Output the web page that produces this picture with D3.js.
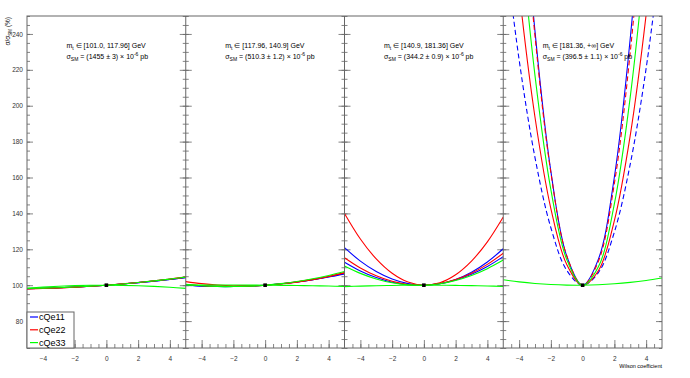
<!DOCTYPE html>
<html><head><meta charset="utf-8">
<script src="https://cdn.jsdelivr.net/npm/d3@7"></script>
<style>body{margin:0;background:#fff}svg{display:block;font-family:"Liberation Sans",Arial,sans-serif}</style>
</head><body><svg id="c" width="690" height="378"></svg>
<script>
// ---------- data ----------
const wilson = [-5,-4,-3,-2,-1,0,1,2,3,4,5];
const coefficients = ["cQe11","cQe22","cQe33"];
const massRanges = ["[101.0, 117.96]","[117.96, 140.9]","[140.9, 181.36]","[181.36, +\u221e]"];
const sigmaSM = ["(1455 \u00b1 3)","(510.3 \u00b1 1.2)","(344.2 \u00b1 0.9)","(396.5 \u00b1 1.1)"];
const xTickLabels = [-4,-2,0,2,4];
const yTickLabels = [80,100,120,140,160,180,200,220,240];

// panel 1
const p1_cQe11_a = [98.1,98.29,98.57,98.95,99.43,100,100.67,101.43,102.29,103.25,104.3];
const p1_cQe11_b = [98.0,98.22,98.54,98.94,99.42,100,100.66,101.42,102.26,103.18,104.2];
const p1_cQe22_a = [97.9,98.12,98.44,98.86,99.38,100,100.72,101.54,102.46,103.48,104.6];
const p1_cQe22_b = [98.0,98.21,98.51,98.91,99.41,100,100.69,101.47,102.35,103.33,104.4];
const p1_cQe33_a = [98.2,98.34,98.6,98.96,99.42,100,100.68,101.48,102.38,103.38,104.5];
const p1_cQe33_b = [98.3,98.92,99.4,99.74,99.94,100,99.92,99.7,99.34,98.84,98.2];
// panel 2
const p2_cQe11_a = [100.2,99.62,99.32,99.28,99.5,100,100.76,101.8,103.1,104.66,106.5];
const p2_cQe11_b = [100.0,99.5,99.24,99.24,99.5,100,100.76,101.76,103.02,104.54,106.3];
const p2_cQe22_a = [102.0,100.88,100.12,99.72,99.68,100,100.68,101.72,103.12,104.88,107.0];
const p2_cQe22_b = [100.4,99.74,99.38,99.3,99.5,100,100.78,101.86,103.22,104.86,106.8];
const p2_cQe33_a = [100.5,99.75,99.33,99.23,99.45,100,100.87,102.07,103.59,105.43,107.6];
const p2_cQe33_b = [100.02,100.07,100.09,100.09,100.06,100,99.92,99.81,99.67,99.51,99.33];
// panel 3
const p3_cQe11_a = [120.9,113.42,107.6,103.42,100.88,100,100.76,103.18,107.24,112.94,120.3];
const p3_cQe11_b = [112.8,107.94,104.24,101.68,100.26,100,100.88,102.92,106.1,110.42,115.9];
const p3_cQe22_a = [140.0,125.76,114.64,106.64,101.76,100,101.36,105.84,113.44,124.16,138.0];
const p3_cQe22_b = [115.3,109.59,105.21,102.15,100.41,100,100.91,103.15,106.71,111.59,117.8];
const p3_cQe33_a = [110.7,106.58,103.46,101.32,100.16,100,100.82,102.64,105.44,109.22,114.0];
const p3_cQe33_b = [99.2,99.48,99.7,99.86,99.96,100,99.98,99.9,99.76,99.56,99.3];
// panel 4
const p4_cQe11_a = [295.5,225.6,171.1,132.0,108.3,100,107.1,129.6,167.5,220.8,289.5];
const p4_cQe11_b = [490.35,350.44,241.45,163.38,116.23,100,114.69,160.3,237.6,345.2,482.8];
const p4_cQe22_a = [354.4,264.16,193.6,142.72,111.52,100,108.16,136.0,183.52,250.72,337.6];
const p4_cQe22_b = [480.75,344.88,238.87,162.72,116.43,100,113.43,156.72,229.87,332.88,469.75];
const p4_cQe33_a = [417.85,305.0,216.79,153.22,114.29,100,110.35,145.34,204.97,289.24,398.15];
const p4_cQe33_b = [103.0,101.84,100.96,100.36,100.04,100,100.24,100.76,101.56,102.64,104.0];

const panelSeries = [
  [p1_cQe11_a,p1_cQe11_b,p1_cQe22_a,p1_cQe22_b,p1_cQe33_a,p1_cQe33_b],
  [p2_cQe11_a,p2_cQe11_b,p2_cQe22_a,p2_cQe22_b,p2_cQe33_a,p2_cQe33_b],
  [p3_cQe11_a,p3_cQe11_b,p3_cQe22_a,p3_cQe22_b,p3_cQe33_a,p3_cQe33_b],
  [p4_cQe11_a,p4_cQe11_b,p4_cQe22_a,p4_cQe22_b,p4_cQe33_a,p4_cQe33_b]
];
const seriesCoef = [0,0,1,1,2,2];
const dashedInPanel4 = [true,false,false,true,false,false];

// ---------- layout ----------
const colors = ["#0000ff","#ff0000","#00ff00"];
const L = 27, R = 662, T = 16, B = 348;
const pw = (R - L) / 4;
const svg = d3.select("#c");
const y = d3.scaleLinear().domain([65,250]).range([B,T]);
const frameCol = "#666";

const defs = svg.append("defs");

const line = (xs) => d3.line().x((d,i)=>xs(wilson[i])).y(d=>y(d)).curve(d3.curveCatmullRom.alpha(0.5));

function styleAxis(g){
  g.select(".domain").remove();
  g.selectAll(".tick line").attr("stroke",frameCol).attr("stroke-width",0.8);
  g.selectAll(".tick text").attr("font-size",6.5).attr("fill","#333").attr("font-family","Liberation Sans, Arial, sans-serif");
}

const yMinor = d3.range(65,251,5);
const xMinor = d3.range(-5,5.01,0.5);

for (let p = 0; p < 4; p++) {
  const x0 = L + p*pw, x1 = x0 + pw;
  const x = d3.scaleLinear().domain([-5,5]).range([x0,x1]);
  const g = svg.append("g");

  // y ticks left (major + minor)
  const gl = g.append("g").attr("transform",`translate(${x0},0)`)
    .call(d3.axisLeft(y).tickValues(yMinor).tickSize(-3).tickFormat(""));
  styleAxis(gl);
  const glM = g.append("g").attr("transform",`translate(${x0},0)`)
    .call(d3.axisLeft(y).tickValues(yTickLabels).tickSize(-6).tickPadding(4).tickFormat(p===0 ? d3.format("d") : ""));
  styleAxis(glM);
  // y ticks right
  const gr = g.append("g").attr("transform",`translate(${x1},0)`)
    .call(d3.axisRight(y).tickValues(yMinor).tickSize(-3).tickFormat(""));
  styleAxis(gr);
  const grM = g.append("g").attr("transform",`translate(${x1},0)`)
    .call(d3.axisRight(y).tickValues(yTickLabels).tickSize(-6).tickFormat(""));
  styleAxis(grM);
  // x ticks bottom
  const gb = g.append("g").attr("transform",`translate(0,${B})`)
    .call(d3.axisBottom(x).tickValues(xMinor.filter(v=>v>-5&&v<5)).tickSize(-4).tickFormat(""));
  styleAxis(gb);
  const gbM = g.append("g").attr("transform",`translate(0,${B})`)
    .call(d3.axisBottom(x).tickValues(xTickLabels).tickSize(-8).tickPadding(8)
      .tickFormat(d => d < 0 ? "\u2212" + Math.abs(d) : d));
  styleAxis(gbM);

  // curves
  const clipId = "clip"+p;
  defs.append("clipPath").attr("id",clipId).append("rect")
    .attr("x",x0).attr("y",T).attr("width",pw).attr("height",B-T);
  const cg = g.append("g").attr("clip-path",`url(#${clipId})`);
  panelSeries[p].forEach((vals,i) => {
    cg.append("path").datum(vals)
      .attr("d", line(x))
      .attr("fill","none")
      .attr("stroke", colors[seriesCoef[i]])
      .attr("stroke-width",1.1)
      .attr("stroke-dasharray", (p===3 && dashedInPanel4[i]) ? "5,3" : null);
  });
  // SM point
  cg.append("rect").attr("x",x(0)-1.8).attr("y",y(100)-1.8).attr("width",3.6).attr("height",3.6).attr("fill","#000");

  // header text
  const t1 = g.append("text").attr("x",x0+39.5).attr("y",48).attr("font-size",7).attr("fill","#000");
  t1.append("tspan").text("m");
  t1.append("tspan").attr("font-size",5).attr("dy",1.5).text("t");
  t1.append("tspan").attr("dy",-1.5).text(" \u2208 " + massRanges[p] + " GeV");
  const t2 = g.append("text").attr("x",x0+39.5).attr("y",59).attr("font-size",7).attr("fill","#000");
  t2.append("tspan").text("\u03c3");
  t2.append("tspan").attr("font-size",5).attr("dy",1.8).text("SM");
  t2.append("tspan").attr("dy",-1.8).text(" = " + sigmaSM[p] + " \u00d7 10");
  t2.append("tspan").attr("font-size",5).attr("dy",-3).text("-6");
  t2.append("tspan").attr("dy",3).text(" pb");
}

// frame & separators
svg.append("rect").attr("x",L).attr("y",T).attr("width",R-L).attr("height",B-T)
  .attr("fill","none").attr("stroke",frameCol).attr("stroke-width",1);
for (let p = 1; p < 4; p++) {
  svg.append("line").attr("x1",L+p*pw).attr("x2",L+p*pw).attr("y1",T).attr("y2",B)
    .attr("stroke",frameCol).attr("stroke-width",1);
}

// y title
const yt = svg.append("text").attr("transform","translate(10,17) rotate(-90)")
  .attr("text-anchor","end").attr("font-size",6.5).attr("fill","#000");
yt.append("tspan").text("\u03c3/\u03c3");
yt.append("tspan").attr("font-size",4.5).attr("dy",1.5).text("SM");
yt.append("tspan").attr("dy",-1.5).text(" (%)");

// x title
svg.append("text").attr("x",R).attr("y",367.5).attr("text-anchor","end")
  .attr("font-size",5.5).attr("fill","#000").text("Wilson coefficient");

// legend
const lg = svg.append("g");
lg.append("rect").attr("x",L).attr("y",312).attr("width",47).attr("height",B-312)
  .attr("fill","#fff").attr("stroke",frameCol).attr("stroke-width",1);
coefficients.forEach((c,i) => {
  const yy = 317 + i*12.8;
  lg.append("line").attr("x1",L+3).attr("x2",L+11).attr("y1",yy).attr("y2",yy)
    .attr("stroke",colors[i]).attr("stroke-width",1.2);
  lg.append("text").attr("x",L+12).attr("y",yy+3.3).attr("font-size",9).attr("fill","#000").text(c);
});
</script></body></html>
